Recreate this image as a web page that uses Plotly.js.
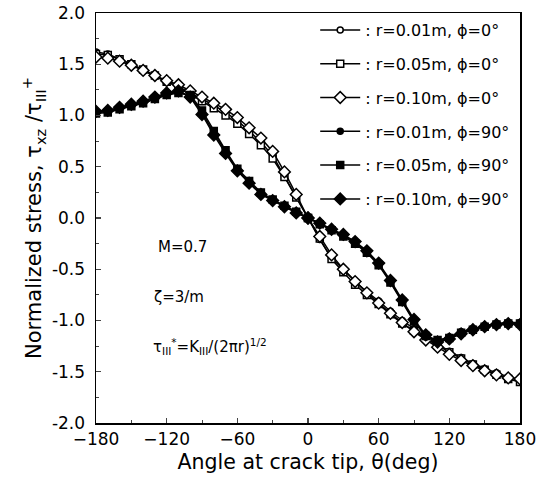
<!DOCTYPE html>
<html>
<head>
<meta charset="utf-8">
<script src="https://cdn.plot.ly/plotly-3.0.1.min.js"></script>
<style>html,body{margin:0;padding:0;background:#fff;}#chart{width:545px;height:485px;}</style>
</head>
<body>
<div id="chart"></div>
<script>
const theta = [-180,-170,-160,-150,-140,-130,-120,-110,-100,-90,-80,-70,-60,-50,-40,-30,-20,-10,0,10,20,30,40,50,60,70,80,90,100,110,120,130,140,150,160,170,180];

const r001_phi0 = [1.62,1.60,1.55,1.50,1.44,1.38,1.33,1.28,1.22,1.16,1.10,1.03,0.95,0.85,0.74,0.61,0.41,0.21,0.00,-0.21,-0.39,-0.50,-0.62,-0.72,-0.81,-0.91,-1.00,-1.08,-1.16,-1.23,-1.30,-1.36,-1.42,-1.47,-1.51,-1.55,-1.58];
const r005_phi0 = [1.60,1.59,1.55,1.50,1.45,1.39,1.33,1.28,1.21,1.14,1.07,1.00,0.92,0.82,0.71,0.58,0.40,0.20,0.00,-0.20,-0.40,-0.53,-0.65,-0.75,-0.84,-0.94,-1.03,-1.10,-1.17,-1.24,-1.31,-1.37,-1.43,-1.48,-1.53,-1.57,-1.60];
const r010_phi0 = [1.57,1.56,1.53,1.49,1.44,1.39,1.34,1.30,1.24,1.18,1.12,1.06,0.98,0.88,0.78,0.65,0.45,0.23,0.00,-0.18,-0.36,-0.50,-0.62,-0.73,-0.83,-0.93,-1.02,-1.11,-1.19,-1.26,-1.33,-1.39,-1.44,-1.49,-1.53,-1.56,-1.57];
const r001_phi90 = [1.03,1.04,1.07,1.10,1.13,1.17,1.21,1.23,1.19,1.03,0.83,0.65,0.47,0.35,0.24,0.18,0.12,0.06,0.00,-0.05,-0.12,-0.17,-0.24,-0.33,-0.45,-0.62,-0.81,-1.00,-1.16,-1.20,-1.16,-1.11,-1.08,-1.05,-1.03,-1.02,-1.02];
const r005_phi90 = [1.02,1.03,1.06,1.09,1.12,1.16,1.20,1.22,1.20,1.05,0.85,0.66,0.48,0.36,0.25,0.18,0.12,0.06,0.00,-0.06,-0.12,-0.18,-0.25,-0.34,-0.46,-0.63,-0.82,-1.01,-1.15,-1.19,-1.17,-1.12,-1.09,-1.06,-1.04,-1.03,-1.03];
const r010_phi90 = [1.04,1.05,1.08,1.11,1.14,1.18,1.22,1.24,1.18,1.01,0.81,0.63,0.46,0.34,0.23,0.17,0.11,0.05,0.00,-0.05,-0.11,-0.16,-0.23,-0.32,-0.44,-0.61,-0.80,-0.99,-1.14,-1.21,-1.18,-1.13,-1.09,-1.06,-1.04,-1.03,-1.04];

const seriesNames = [": r=0.01m, ϕ=0°", ": r=0.05m, ϕ=0°", ": r=0.10m, ϕ=0°", ": r=0.01m, ϕ=90°", ": r=0.05m, ϕ=90°", ": r=0.10m, ϕ=90°"];
const seriesData = [r001_phi0, r005_phi0, r010_phi0, r001_phi90, r005_phi90, r010_phi90];
const symbols = ["circle","square","diamond","circle","square","diamond"];
const sizes = [6,7,9,6,7,9];
const fills = ['#fff','#fff','#fff','#000','#000','#000'];

const traces = seriesData.map((y,i)=>({
  x: theta, y: y, name: seriesNames[i], type:'scatter', mode:'lines+markers',
  legendgroup: 'g'+i,
  line:{color:'#000', width:1.5},
  marker:{symbol:symbols[i], size:sizes[i], color: fills[i], line:{color:'#000', width:1.5}}
}));

const font = "DejaVu Sans, sans-serif";
const layout = {
  width:545, height:485,
  margin:{l:96, r:25, t:13, b:62},
  paper_bgcolor:'#fff', plot_bgcolor:'#fff',
  font:{family:font, color:'#000', size:15},
  showlegend:true,
  legend:{x:0.517, y:1.0, xanchor:'left', yanchor:'top', bgcolor:'rgba(0,0,0,0)', font:{size:16, family:font}, tracegroupgap:10, itemwidth:40},
  xaxis:{range:[-180,180], tickmode:'array', tickvals:[-180,-120,-60,0,60,120,180], ticks:'inside', ticklen:5, tickwidth:1.2,
    minor:{ticks:'inside', tickvals:[-150,-90,-30,30,90,150], ticklen:3, tickwidth:1},
    showline:true, linewidth:1.5, linecolor:'#000', mirror:true, showgrid:false, zeroline:false,
    tickfont:{size:17}, title:{text:'Angle at crack tip, θ(deg)', font:{size:20.5}, standoff:6}},
  yaxis:{range:[-2,2], tickmode:'array', tickvals:[-2,-1.5,-1,-0.5,0,0.5,1,1.5,2], ticktext:['-2.0','-1.5','-1.0','-0.5','0.0','0.5','1.0','1.5','2.0'],
    ticks:'inside', ticklen:5, tickwidth:1.2, ticklabelstandoff:6,
    minor:{ticks:'inside', tickvals:[-1.75,-1.25,-0.75,-0.25,0.25,0.75,1.25,1.75], ticklen:3, tickwidth:1},
    showline:true, linewidth:1.5, linecolor:'#000', mirror:true, showgrid:false, zeroline:false,
    tickfont:{size:17}, title:{text:'Normalized stress, τ<sub>xz</sub> /τ<sub>III</sub><sup>+</sup>', font:{size:21}, standoff:4}},
  annotations:[
    {xref:'paper', yref:'paper', x:(156-96)/424, y:(423-247)/410, xanchor:'left', yanchor:'middle', text:'M=0.7', showarrow:false, font:{size:15}},
    {xref:'paper', yref:'paper', x:(152-96)/424, y:(423-297)/410, xanchor:'left', yanchor:'middle', text:'ζ=3/m', showarrow:false, font:{size:15}},
    {xref:'paper', yref:'paper', x:(151-96)/424, y:(423-346)/410, xanchor:'left', yanchor:'middle', text:'τ<sub>III</sub><sup>*</sup>=K<sub>III</sub>/(2πr)<sup>1/2</sup>', showarrow:false, font:{size:15}}
  ]
};
Plotly.newPlot('chart', traces, layout, {displayModeBar:false, staticPlot:true});
</script>
</body>
</html>
